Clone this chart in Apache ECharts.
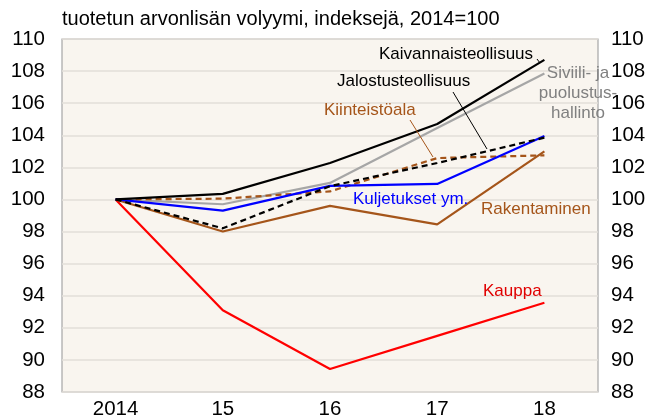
<!DOCTYPE html>
<html><head><meta charset="utf-8">
<script src="https://cdn.jsdelivr.net/npm/echarts@6/dist/echarts.min.js"></script>
<style>html,body{margin:0;padding:0;background:#fff}#c{width:651px;height:420px}</style>
</head><body><div id="c"></div>
<script>
const categories = ['2014', '15', '16', '17', '18'];
const kaivannais = [100, 100.35, 102.27, 104.7, 108.7];
const siviili = [100, 99.7, 101.03, 104.45, 107.85];
const jalostus = [100, 98.2, 100.83, 102.27, 103.85];
const kiinteisto = [100, 100.05, 100.5, 102.58, 102.75];
const kuljetukset = [100, 99.3, 100.85, 100.97, 103.95];
const rakentaminen = [100, 98.0, 99.6, 98.45, 103.0];
const kauppa = [100, 93.1, 89.43, 91.5, 93.56];
const yTicks = {min: 88, max: 110, interval: 2};

const FONT = 'Liberation Sans, Arial, sans-serif';
const chart = echarts.init(document.getElementById('c'), null, {renderer: 'canvas'});
function line(name, data, color, dashed, z) {
  return {name, type: 'line', data, symbol: 'none', z: z,
    lineStyle: {color, width: 2.2, type: dashed ? [6, 4] : 'solid'}};
}
const yCommon = {type: 'value', min: yTicks.min, max: yTicks.max, interval: yTicks.interval,
  axisLine: {show: false}, axisTick: {show: false},
  axisLabel: {color: '#000', fontSize: 20.5, fontFamily: FONT}};
const AF = '17px ' + FONT;
chart.setOption({
  animation: false,
  textStyle: {fontFamily: FONT},
  grid: {left: 62, right: 53, top: 39, bottom: 26, show: true,
    backgroundColor: '#f9f5ef', borderColor: '#a6a6a6', borderWidth: 1.2},
  xAxis: {type: 'category', data: categories, boundaryGap: true,
    axisLine: {show: false}, axisTick: {show: false},
    axisLabel: {color: '#000', fontSize: 20.5, fontFamily: FONT, margin: 7}},
  yAxis: [
    Object.assign({}, yCommon, {position: 'left', axisLabel: Object.assign({}, yCommon.axisLabel, {margin: 17}),
      splitLine: {lineStyle: {color: '#e2ded8', width: 1.5}}}),
    Object.assign({}, yCommon, {position: 'right', axisLabel: Object.assign({}, yCommon.axisLabel, {margin: 13}),
      splitLine: {show: false}})
  ],
  series: [
    line('Kauppa', kauppa, '#ff0000', false, 2),
    line('Rakentaminen', rakentaminen, '#a5551a', false, 3),
    line('Siviili- ja puolustushallinto', siviili, '#a6a6a6', false, 3),
    line('Kiinteistöala', kiinteisto, '#a5551a', true, 4),
    line('Kuljetukset ym.', kuljetukset, '#0000ff', false, 5),
    line('Jalostusteollisuus', jalostus, '#000000', true, 6),
    line('Kaivannaisteollisuus', kaivannais, '#000000', false, 7)
  ],
  graphic: [
    {type: 'text', left: 62, top: 9, style: {text: 'tuotetun arvonlisän volyymi, indeksejä, 2014=100', font: '20px ' + FONT, fill: '#000'}},
    {type: 'text', left: 379, top: 46, z: 20, style: {text: 'Kaivannaisteollisuus', font: AF, fill: '#000'}},
    {type: 'line', z: 20, shape: {x1: 537, y1: 59, x2: 540, y2: 63}, style: {stroke: '#000', lineWidth: 1}},
    {type: 'text', left: 337, top: 73, z: 20, style: {text: 'Jalostusteollisuus', font: AF, fill: '#000'}},
    {type: 'line', z: 20, shape: {x1: 453, y1: 92, x2: 487, y2: 149}, style: {stroke: '#000', lineWidth: 1}},
    {type: 'text', x: 578, y: 63, z: 20, style: {text: 'Siviili- ja\npuolustus-\nhallinto', font: AF, fill: '#808080', align: 'center', verticalAlign: 'top', lineHeight: 20}},
    {type: 'text', left: 324, top: 102, z: 20, style: {text: 'Kiinteistöala', font: AF, fill: '#a5551a'}},
    {type: 'line', z: 20, shape: {x1: 410, y1: 120, x2: 433, y2: 157}, style: {stroke: '#a5551a', lineWidth: 1}},
    {type: 'text', left: 353, top: 191, z: 20, style: {text: 'Kuljetukset ym.', font: AF, fill: '#0000ff'}},
    {type: 'text', left: 481, top: 201, z: 20, style: {text: 'Rakentaminen', font: AF, fill: '#a5551a'}},
    {type: 'text', left: 483, top: 283, z: 20, style: {text: 'Kauppa', font: AF, fill: '#e00000'}}
  ]
});
</script></body></html>
